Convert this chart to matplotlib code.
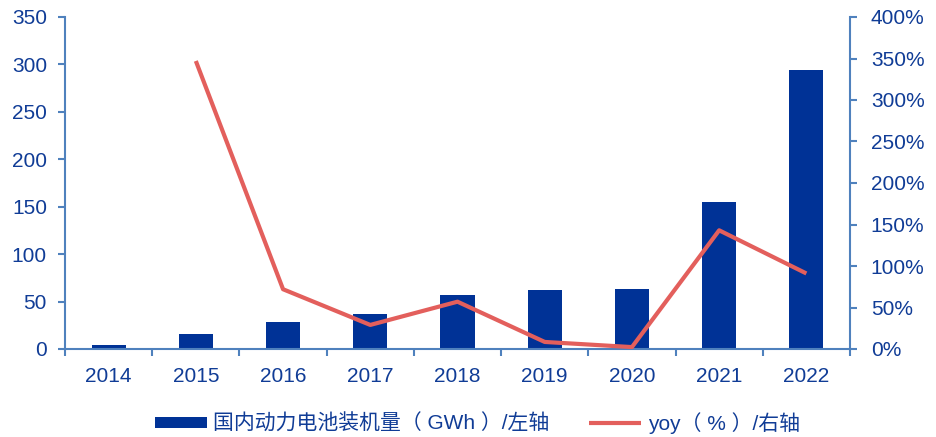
import matplotlib
matplotlib.use("Agg")
import matplotlib.pyplot as plt
from matplotlib.ticker import FuncFormatter

plt.rcParams['font.family'] = ['Liberation Sans', 'Noto Sans CJK SC', 'DejaVu Sans']

years = ['2014', '2015', '2016', '2017', '2018', '2019', '2020', '2021', '2022']
install_gwh = [3.7, 15.8, 28.5, 36.5, 56.9, 62.4, 63.6, 154.5, 294.6]
yoy_pct = [None, 347, 72, 29, 57, 8.5, 2.3, 143, 91]

bar_color = '#003296'
line_color = '#E35F5C'
axis_color = '#4F81BD'
text_color = '#103C96'

fig = plt.figure(figsize=(9.36, 4.37), dpi=100)
ax = fig.add_axes([65/936, 1 - 349/437, (850 - 65)/936, (349 - 17)/437])
ax2 = ax.twinx()

x = list(range(len(years)))
ax.bar(x, install_gwh, width=0.39, color=bar_color, zorder=2,
       label='国内动力电池装机量（ GWh ）/左轴')

xl = [i for i, v in zip(x, yoy_pct) if v is not None]
yl = [v for v in yoy_pct if v is not None]
ax2.plot(xl, yl, color=line_color, lw=3.0, zorder=3, solid_capstyle='butt',
         label='yoy（ % ）/右轴')

ax.set_xlim(-0.5, len(years) - 0.5)
ax.set_ylim(0, 350)
ax2.set_ylim(0, 400)
ax.set_yticks(range(0, 351, 50))
ax2.set_yticks(range(0, 401, 50))
ax2.yaxis.set_major_formatter(FuncFormatter(lambda v, p: f'{int(v)}%'))

# category labels centered, tick marks at category boundaries
ax.set_xticks(x)
ax.set_xticklabels(years)
ax.set_xticks([i - 0.5 for i in range(len(years) + 1)], minor=True)
ax.tick_params(axis='x', which='major', length=0, pad=13, labelsize=15, labelcolor=text_color)
ax.tick_params(axis='x', which='minor', length=5, width=1.5, color=axis_color, direction='out')
ax.tick_params(axis='y', length=5, width=1.5, color=axis_color, labelsize=15,
               labelcolor=text_color, pad=8)
ax2.tick_params(axis='y', length=5, width=1.5, color=axis_color, labelsize=15,
                labelcolor=text_color, pad=10)

for a in (ax, ax2):
    a.spines['top'].set_visible(False)
    for side in ('left', 'right', 'bottom'):
        a.spines[side].set_color(axis_color)
        a.spines[side].set_linewidth(1.5)
ax.spines['right'].set_visible(False)
ax2.spines['left'].set_visible(False)
ax2.spines['bottom'].set_visible(False)

h1, l1 = ax.get_legend_handles_labels()
h2, l2 = ax2.get_legend_handles_labels()
fig.legend(h1 + h2, l1 + l2, loc='center', bbox_to_anchor=(0.51, 1 - 423/437),
           ncol=2, frameon=False, fontsize=15, labelcolor=text_color,
           handlelength=2.5, handleheight=0.5, handletextpad=0.3, columnspacing=1.9)

fig.savefig('out.png', dpi=100)
